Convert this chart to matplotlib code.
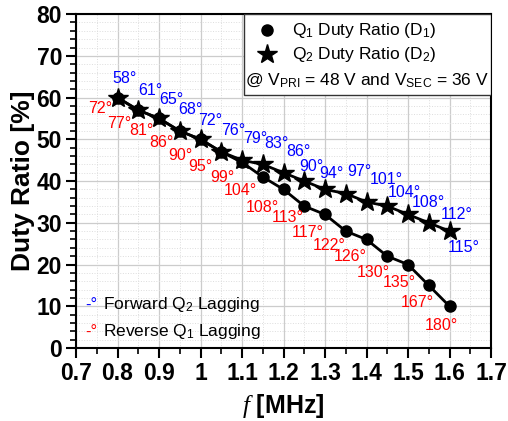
import matplotlib
matplotlib.use("Agg")
import matplotlib.pyplot as plt
from matplotlib.patches import Rectangle
from matplotlib.ticker import MultipleLocator

plt.rcParams['font.family'] = ['Liberation Sans', 'DejaVu Sans']
plt.rcParams['mathtext.fontset'] = 'custom'
plt.rcParams['mathtext.rm'] = 'Liberation Sans'
plt.rcParams['mathtext.it'] = 'Liberation Serif:italic'
plt.rcParams['mathtext.default'] = 'regular'

# ---------------- data ----------------
freq = [0.8, 0.85, 0.9, 0.95, 1.0, 1.05, 1.1, 1.15, 1.2, 1.25, 1.3, 1.35, 1.4, 1.45, 1.5, 1.55, 1.6]
d1 = [60, 57, 55, 52, 50, 47, 44.5, 41, 38, 34, 32, 28, 26, 22, 20, 15, 10]
d2 = [60, 57, 55, 52, 50, 47, 45, 44, 42, 40, 38, 37, 35, 34, 32, 30, 28]
fwd_angles = [58, 61, 65, 68, 72, 76, 79, 83, 86, 90, 94, 97, 101, 104, 108, 112, 115]
rev_angles = [72, 77, 81, 86, 90, 95, 99, 104, 108, 113, 117, 122, 126, 130, 135, 167, 180]
xticks = [0.7, 0.8, 0.9, 1.0, 1.1, 1.2, 1.3, 1.4, 1.5, 1.6, 1.7]
xticklabels = ['0.7', '0.8', '0.9', '1', '1.1', '1.2', '1.3', '1.4', '1.5', '1.6', '1.7']
yticks = [0, 10, 20, 30, 40, 50, 60, 70, 80]

# ---------------- label placement (pixel offsets, style only) ----------------
fwd_dx = [-5, 0, 0, -2, -2, 0, 1, 1, 3, -5, -6, 1, 3, 0, 4, 12, -2]
fwd_dy = [19, 20, 19, 21, 19, 21, 22, 21, 21, 15, 16, 22, 22, 14, 12, 8, -16]
rev_dx = [-5, -7, -5, -6, -8, -9, -8, -6, -5, -1, -1, 0, 0, 3, 8, 5, 8]
rev_dy = [-11, -13, -12, -12, -16, -15, -15, -14, -18, -11, -18, -14, -17, -16, -18, -17, -19]

fig = plt.figure(figsize=(5.08, 4.21), dpi=100)
ax = fig.add_axes([0.1496, 0.1734, 0.817, 0.793])

ax.plot(freq, d1, color='black', lw=2, marker='o', ms=8, zorder=3)
ax.plot(freq, d2, color='black', lw=2, marker='*', ms=15, zorder=4)

ann_fs = 11.5
for x, y, a, dx, dy in zip(freq, d2, fwd_angles, fwd_dx, fwd_dy):
    ax.annotate(f"{a}°", (x, y), xytext=(dx, dy), textcoords='offset pixels',
                ha='left', va='center', color='blue', fontsize=ann_fs, zorder=5)
for x, y, a, dx, dy in zip(freq, d1, rev_angles, rev_dx, rev_dy):
    ax.annotate(f"{a}°", (x, y), xytext=(dx, dy), textcoords='offset pixels',
                ha='right', va='center', color='red', fontsize=ann_fs, zorder=5)

ax.set_xlim(0.7, 1.7)
ax.set_ylim(0, 80)
ax.set_xticks(xticks)
ax.set_xticklabels(xticklabels)
ax.set_yticks(yticks)
ax.xaxis.set_minor_locator(MultipleLocator(0.05))
ax.yaxis.set_minor_locator(MultipleLocator(2))
ax.grid(which='major', color='#cccccc', lw=0.9)
ax.grid(which='minor', color='#dddddd', lw=0.7, ls=':')
ax.set_axisbelow(True)
ax.tick_params(which='major', direction='out', length=7, width=1.5, labelsize=16.5, pad=3)
ax.tick_params(which='minor', direction='out', length=4, width=1.2)
for lab in ax.get_xticklabels() + ax.get_yticklabels():
    lab.set_fontweight('bold')
for s in ax.spines.values():
    s.set_linewidth(1.5)

ax.set_ylabel('Duty Ratio [%]', fontsize=19, fontweight='bold', labelpad=1)
ax.set_xlabel(r'$\mathit{f}$ [MHz]', fontsize=18, fontweight='bold', labelpad=5)

# legend box (top right)
ax.add_patch(Rectangle((0.405, 0.757), 0.595, 0.243, transform=ax.transAxes,
                       facecolor='white', edgecolor='#333333', lw=1, zorder=6))
ax.plot([0.46], [0.952], transform=ax.transAxes, marker='o', ms=8, color='black',
        ls='none', zorder=7, clip_on=False)
ax.plot([0.46], [0.880], transform=ax.transAxes, marker='*', ms=15, color='black',
        ls='none', zorder=7, clip_on=False)
leg_fs = 12.5
ax.text(0.52, 0.952, 'Q$_1$ Duty Ratio (D$_1$)', transform=ax.transAxes, fontsize=leg_fs,
        ha='left', va='center', zorder=7)
ax.text(0.52, 0.880, 'Q$_2$ Duty Ratio (D$_2$)', transform=ax.transAxes, fontsize=leg_fs,
        ha='left', va='center', zorder=7)
ax.text(0.702, 0.800, '@ V$_{PRI}$ = 48 V and V$_{SEC}$ = 36 V', transform=ax.transAxes,
        fontsize=leg_fs, ha='center', va='center', zorder=7)

# lower-left annotation legend
ax.text(0.022, 0.129, '-°', transform=ax.transAxes, color='blue', fontsize=12,
        ha='left', va='center', zorder=7)
ax.text(0.065, 0.129, 'Forward Q$_2$ Lagging', transform=ax.transAxes, fontsize=leg_fs,
        ha='left', va='center', zorder=7)
ax.text(0.022, 0.048, '-°', transform=ax.transAxes, color='red', fontsize=12,
        ha='left', va='center', zorder=7)
ax.text(0.065, 0.048, 'Reverse Q$_1$ Lagging', transform=ax.transAxes, fontsize=leg_fs,
        ha='left', va='center', zorder=7)

fig.savefig('out.png', dpi=100)
